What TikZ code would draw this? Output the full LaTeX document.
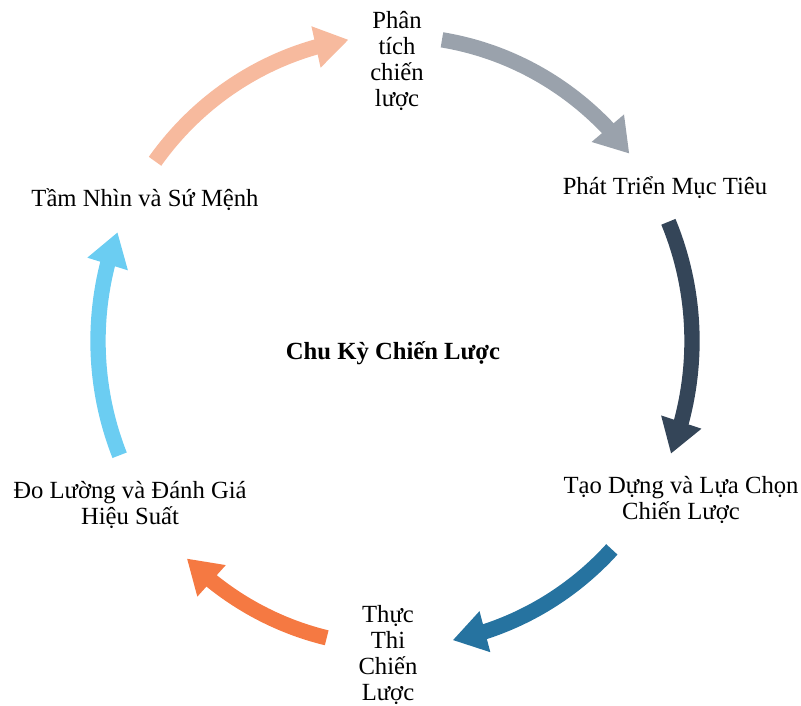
\documentclass[tikz,border=0pt]{standalone}
\usepackage{fontspec}
\setmainfont{Liberation Serif}
\usetikzlibrary{arrows.meta,bending,calc}

\definecolor{cpeach}{HTML}{F7BA9E}
\definecolor{cgray}{HTML}{9AA2AC}
\definecolor{cnavy}{HTML}{344558}
\definecolor{cteal}{HTML}{2673A0}
\definecolor{corange}{HTML}{F57942}
\definecolor{csky}{HTML}{6BCDF2}

\tikzset{
  lbl/.style={font=\fontsize{18.5}{19.5}\selectfont, align=center, inner sep=0pt},
  ttl/.style={lbl, font=\fontsize{18.5}{19.5}\selectfont\bfseries},
  cyc/.style={line width=11.5pt, -{Triangle[length=25pt,width=30pt]}},
  track/.style={x radius=222.75pt, y radius=228.75pt},
}

\begin{document}
\begin{tikzpicture}[x=0.75pt,y=0.75pt]
  \useasboundingbox (0,0) rectangle (801,706);

  \coordinate (c) at (395,365);

  % stage labels
  \node[lbl] (ana) at (397,645) {Phân\\tích\\chiến\\lược};
  \node[lbl] (goal) at (665,518) {Phát Triển Mục Tiêu};
  \node[lbl] (build) at (681,206) {Tạo Dựng và Lựa Chọn\\Chiến Lược};
  \node[lbl] (exec) at (388,51) {Thực\\Thi\\Chiến\\Lược};
  \node[lbl] (eval) at (130,201) {Đo Lường và Đánh Giá\\Hiệu Suất};
  \node[lbl] (vis) at (145,506) {Tầm Nhìn và Sứ Mệnh};
  \node[ttl] (title) at (393,353) {Chu Kỳ Chiến Lược};

  % start points of the cycle arrows on the elliptical track
  \coordinate (a1) at ($(c)+(143.9:222.75pt and 228.75pt)$);
  \coordinate (a2) at ($(c)+(80.9:222.75pt and 228.75pt)$);
  \coordinate (a3) at ($(c)+(23.0:222.75pt and 228.75pt)$);
  \coordinate (a4) at ($(c)+(-43.1:222.75pt and 228.75pt)$);
  \coordinate (a5) at ($(c)+(-103.3:222.75pt and 228.75pt)$);
  \coordinate (a6) at ($(c)+(-158.0:222.75pt and 228.75pt)$);

  % cycle arrows, clockwise
  \draw[cyc, cpeach]  (a1) arc[track, start angle=143.9, end angle=99.0];
  \draw[cyc, cgray]   (a2) arc[track, start angle=80.9, end angle=37.9];
  \draw[cyc, cnavy]   (a3) arc[track, start angle=23.0, end angle=-21.7];
  \draw[cyc, cteal]   (a4) arc[track, start angle=-43.1, end angle=-78.8];
  \draw[cyc, corange] (a5) arc[track, start angle=-103.3, end angle=-134.5];
  \draw[cyc, csky]    (a6) arc[track, start angle=-158.0, end angle=-200.9];
\end{tikzpicture}
\end{document}
